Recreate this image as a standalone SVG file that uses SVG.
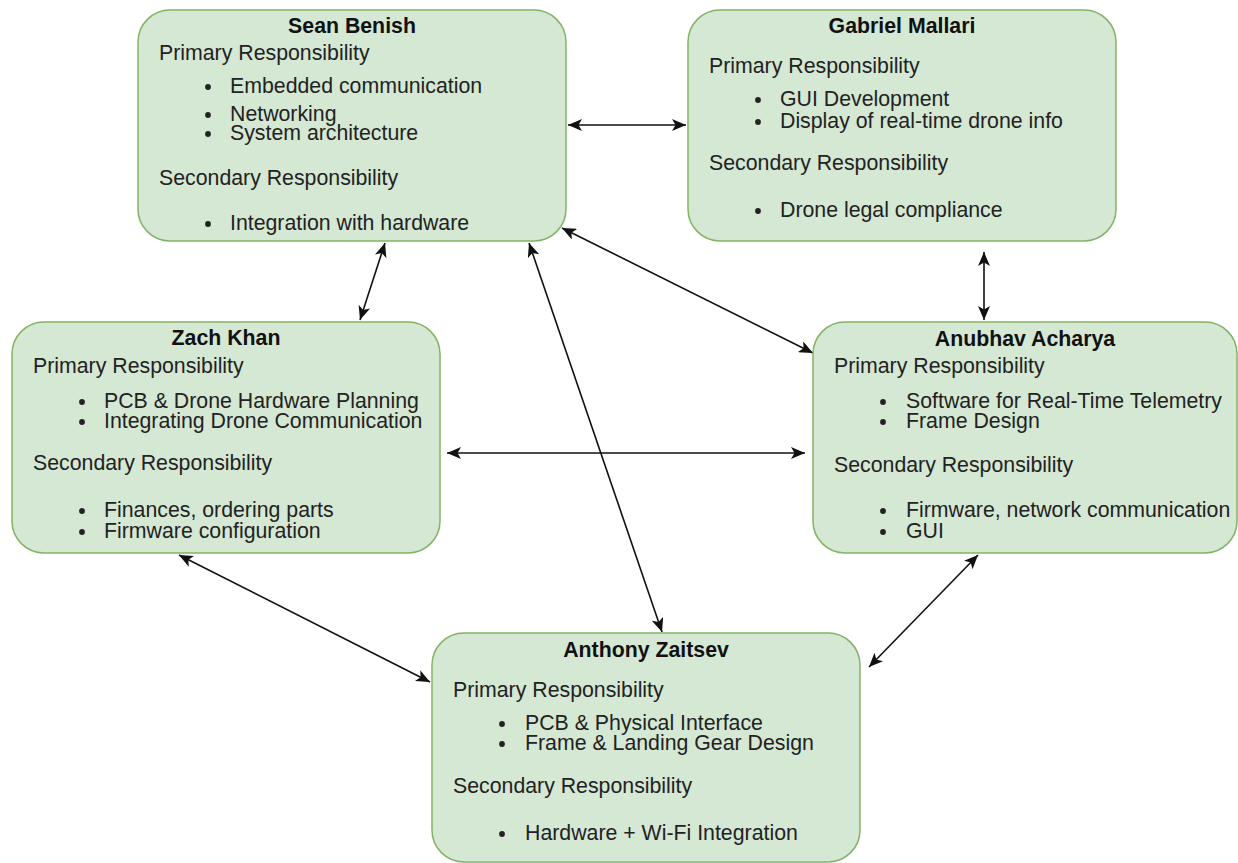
<svg xmlns="http://www.w3.org/2000/svg" width="1238" height="863" viewBox="0 0 1238 863">
  <style>
    .box { fill: #d5e8d4; stroke: #82b366; stroke-width: 1.5; }
    .title { font-family: "Liberation Sans", Arial, sans-serif; font-size: 21.3px; font-weight: bold; fill: #111; text-anchor: middle; }
    .txt { font-family: "Liberation Sans", Arial, sans-serif; font-size: 21.3px; fill: #222; }
    .dot { fill: #222; }
    .edge { fill: none; stroke: #111; stroke-width: 1.6; marker-start: url(#arrow); marker-end: url(#arrow); }
  </style>
  <defs>
    <marker id="arrow" viewBox="0 0 14 12" refX="14" refY="6" markerWidth="14" markerHeight="12" markerUnits="userSpaceOnUse" orient="auto-start-reverse">
      <path d="M0,0 L14,6 L0,12 L3.5,6 Z" fill="#111"/>
    </marker>
  </defs>

  <rect width="1238" height="863" fill="#fff"/>

  <!-- connectors -->
  <g id="connectors">
    <line class="edge" x1="568" y1="125" x2="686" y2="125"/>
    <line class="edge" x1="385" y1="243" x2="360" y2="320"/>
    <line class="edge" x1="562" y1="228" x2="813" y2="353"/>
    <line class="edge" x1="529" y1="243" x2="662" y2="632"/>
    <line class="edge" x1="984" y1="252" x2="984" y2="320"/>
    <line class="edge" x1="447" y1="453" x2="805" y2="453"/>
    <line class="edge" x1="179" y1="555" x2="430" y2="682"/>
    <line class="edge" x1="978" y1="555" x2="869" y2="667"/>
  </g>

  <!-- Sean Benish -->
  <g id="node-sean">
    <rect class="box" x="138" y="10" width="428" height="231" rx="32"/>
    <text class="title" x="352" y="33">Sean Benish</text>
    <text class="txt" x="159" y="60">Primary Responsibility</text>
    <circle class="dot" cx="208" cy="87" r="2.9"/>
    <text class="txt" x="230" y="93">Embedded communication</text>
    <circle class="dot" cx="208" cy="115" r="2.9"/>
    <text class="txt" x="230" y="121">Networking</text>
    <circle class="dot" cx="208" cy="134" r="2.9"/>
    <text class="txt" x="230" y="140">System architecture</text>
    <text class="txt" x="159" y="185">Secondary Responsibility</text>
    <circle class="dot" cx="208" cy="224" r="2.9"/>
    <text class="txt" x="230" y="230">Integration with hardware</text>
  </g>

  <!-- Gabriel Mallari -->
  <g id="node-gabriel">
    <rect class="box" x="688" y="10" width="428" height="231" rx="32"/>
    <text class="title" x="902" y="33">Gabriel Mallari</text>
    <text class="txt" x="709" y="73">Primary Responsibility</text>
    <circle class="dot" cx="758" cy="100" r="2.9"/>
    <text class="txt" x="780" y="106">GUI Development</text>
    <circle class="dot" cx="758" cy="122" r="2.9"/>
    <text class="txt" x="780" y="128">Display of real-time drone info</text>
    <text class="txt" x="709" y="170">Secondary Responsibility</text>
    <circle class="dot" cx="758" cy="211" r="2.9"/>
    <text class="txt" x="780" y="217">Drone legal compliance</text>
  </g>

  <!-- Zach Khan -->
  <g id="node-zach">
    <rect class="box" x="12" y="322" width="428" height="231" rx="32"/>
    <text class="title" x="226" y="345">Zach Khan</text>
    <text class="txt" x="33" y="373">Primary Responsibility</text>
    <circle class="dot" cx="82" cy="402" r="2.9"/>
    <text class="txt" x="104" y="408">PCB &amp; Drone Hardware Planning</text>
    <circle class="dot" cx="82" cy="422" r="2.9"/>
    <text class="txt" x="104" y="428">Integrating Drone Communication</text>
    <text class="txt" x="33" y="470">Secondary Responsibility</text>
    <circle class="dot" cx="82" cy="511" r="2.9"/>
    <text class="txt" x="104" y="517">Finances, ordering parts</text>
    <circle class="dot" cx="82" cy="532" r="2.9"/>
    <text class="txt" x="104" y="538">Firmware configuration</text>
  </g>

  <!-- Anubhav Acharya -->
  <g id="node-anubhav">
    <rect class="box" x="813" y="322" width="424" height="231" rx="32"/>
    <text class="title" x="1025" y="346">Anubhav Acharya</text>
    <text class="txt" x="834" y="373">Primary Responsibility</text>
    <circle class="dot" cx="883" cy="402" r="2.9"/>
    <text class="txt" x="906" y="408">Software for Real-Time Telemetry</text>
    <circle class="dot" cx="883" cy="422" r="2.9"/>
    <text class="txt" x="906" y="428">Frame Design</text>
    <text class="txt" x="834" y="472">Secondary Responsibility</text>
    <circle class="dot" cx="883" cy="511" r="2.9"/>
    <text class="txt" x="906" y="517">Firmware, network communication</text>
    <circle class="dot" cx="883" cy="532" r="2.9"/>
    <text class="txt" x="906" y="538">GUI</text>
  </g>

  <!-- Anthony Zaitsev -->
  <g id="node-anthony">
    <rect class="box" x="432" y="633" width="428" height="229" rx="32"/>
    <text class="title" x="646" y="657">Anthony Zaitsev</text>
    <text class="txt" x="453" y="697">Primary Responsibility</text>
    <circle class="dot" cx="502" cy="724" r="2.9"/>
    <text class="txt" x="525" y="730">PCB &amp; Physical Interface</text>
    <circle class="dot" cx="502" cy="744" r="2.9"/>
    <text class="txt" x="525" y="750">Frame &amp; Landing Gear Design</text>
    <text class="txt" x="453" y="793">Secondary Responsibility</text>
    <circle class="dot" cx="502" cy="834" r="2.9"/>
    <text class="txt" x="525" y="840">Hardware + Wi-Fi Integration</text>
  </g>
</svg>
